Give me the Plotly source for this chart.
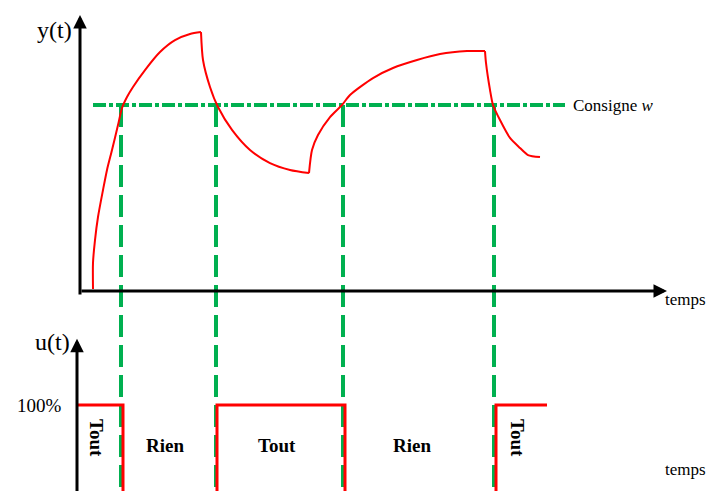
import plotly.graph_objects as go

# ---------------- data ----------------
# controlled variable y(t); time in arbitrary units, setpoint w = 1
t_curve = [2.6, 2.6, 3.0, 3.6, 4.6, 5.4, 6.4, 7.6, 8.4, 9.4, 10.6, 13.0, 16.0, 19.0, 22.0, 24.2,
           24.6, 26.0, 27.6, 30.4, 34.0, 38.0, 42.0, 45.8,
           46.4, 47.6, 50.0, 52.4, 54.0, 58.6, 62.6, 67.4, 72.0, 77.4, 81.0,
           81.2, 82.0, 82.6, 84.0, 86.0, 88.0, 89.6, 92.0]
y_curve = [0.011, 0.151, 0.274, 0.398, 0.543, 0.651, 0.758, 0.892, 0.984, 1.043, 1.097, 1.188, 1.285, 1.349, 1.382, 1.392,
           1.242, 1.097, 0.989, 0.866, 0.758, 0.688, 0.651, 0.634,
           0.758, 0.839, 0.935, 1.0, 1.054, 1.145, 1.199, 1.242, 1.274, 1.290, 1.290,
           1.226, 1.081, 1.0, 0.919, 0.823, 0.769, 0.731, 0.720]
# indices where the curve has a corner (heating / cooling switch)
corner_idx = [15, 23, 34]

setpoint = 1.0
setpoint_t = [2.6, 97.0]

# instants where y(t) crosses the setpoint
t_switch = [8.2, 27.2, 52.6, 82.8]

# command u(t) in %
t_step = [-0.6, 8.6, 27.4, 53.0, 83.2, 93.4]
u_step = [100, 0, 100, 0, 100, 100]

phase_labels = ["Tout", "Rien", "Tout", "Rien", "Tout"]
phase_t = [3.4, 17.0, 39.4, 66.4, 87.6]
phase_u = [62.9, 55.0, 55.0, 55.0, 62.9]
phase_angle = [90, 0, 0, 0, 90]

# ---------------- figure ----------------
GREEN = "#00b050"
RED = "#ff0000"
FONT = "Liberation Serif"

fig = go.Figure()

# setpoint (dash-dot)
fig.add_trace(go.Scatter(x=setpoint_t, y=[setpoint, setpoint], mode="lines",
                         line=dict(color=GREEN, width=4, dash="13px,3px,4px,3px"),
                         yaxis="y", hoverinfo="skip"))

# green switching verticals: from the setpoint down through the u(t) panel
vx, vy = [], []
for ts in t_switch:
    vx += [ts, ts, None]
    vy += [setpoint, -1.3, None]
fig.add_trace(go.Scatter(x=vx, y=vy, mode="lines",
                         line=dict(color=GREEN, width=4, dash="22px,8px"),
                         yaxis="y", hoverinfo="skip"))

# y(t): smooth segments between the corners
bounds = [0] + corner_idx + [len(t_curve) - 1]
for a, b in zip(bounds[:-1], bounds[1:]):
    fig.add_trace(go.Scatter(x=t_curve[a:b + 1], y=y_curve[a:b + 1], mode="lines",
                             line=dict(color=RED, width=2, shape="spline", smoothing=0.7),
                             yaxis="y", hoverinfo="skip"))

# u(t)
fig.add_trace(go.Scatter(x=t_step, y=u_step, mode="lines", line_shape="hv",
                         line=dict(color=RED, width=3), yaxis="y2", hoverinfo="skip"))

annotations = []


def arrow(x0, y0, x1, y1, yref):
    annotations.append(dict(x=x1, y=y1, ax=x0, ay=y0, xref="x", yref=yref,
                            axref="x", ayref=yref, text="", showarrow=True,
                            arrowhead=2, arrowsize=0.9, arrowwidth=3,
                            arrowcolor="black", standoff=0, startstandoff=0))


# axes with arrows
arrow(0, -0.027, 0, 1.484, "y")      # y(t) axis
arrow(0, 0, 117.4, 0, "y")           # time axis (top)
arrow(-0.6, -5, -0.6, 174.4, "y2")   # u(t) axis
arrow(-0.6, 0, 113.6, 0, "y2")       # time axis (bottom)

txt = dict(family=FONT, color="black")
annotations += [
    dict(x=-1.2, y=1.403, xref="x", yref="y", text="y(t)", showarrow=False,
         xanchor="right", yanchor="middle", font=dict(size=24, **txt)),
    dict(x=116.6, y=-0.048, xref="x", yref="y", text="temps", showarrow=False,
         xanchor="left", yanchor="middle", font=dict(size=17, **txt)),
    dict(x=98.2, y=setpoint, xref="x", yref="y", text="Consigne <i>w</i>", showarrow=False,
         xanchor="left", yanchor="middle", font=dict(size=17, **txt)),
    dict(x=-1.6, y=170.8, xref="x", yref="y2", text="u(t)", showarrow=False,
         xanchor="right", yanchor="middle", font=dict(size=24, **txt)),
    dict(x=-3.2, y=100, xref="x", yref="y2", text="100%", showarrow=False,
         xanchor="right", yanchor="middle", font=dict(size=19, **txt)),
    dict(x=116.6, y=27, xref="x", yref="y2", text="temps", showarrow=False,
         xanchor="left", yanchor="middle", font=dict(size=17, **txt)),
]
for lab, tx, uy, ang in zip(phase_labels, phase_t, phase_u, phase_angle):
    annotations.append(dict(x=tx, y=uy, xref="x", yref="y2", text="<b>%s</b>" % lab,
                            showarrow=False, textangle=ang, xanchor="center", yanchor="middle",
                            font=dict(size=19, **txt)))

# the page body has an 8 px margin: the figure is 706x483 and covers window pixels 8..714 / 8..491
split = 1 - 302 / 483
fig.update_layout(
    width=706, height=483, autosize=False,
    margin=dict(l=0, r=0, t=0, b=0),
    paper_bgcolor="white", plot_bgcolor="rgba(0,0,0,0)",
    showlegend=False,
    xaxis=dict(range=[-14.4, 126.8], visible=False, domain=[0, 1]),
    yaxis=dict(range=[-1.0753, 1.5215], visible=False, domain=[0, 1], anchor="x"),
    yaxis2=dict(range=[3.37, 206.74], visible=False, domain=[0, split], anchor="x"),
    annotations=annotations,
)

fig.write_html("out.html")
